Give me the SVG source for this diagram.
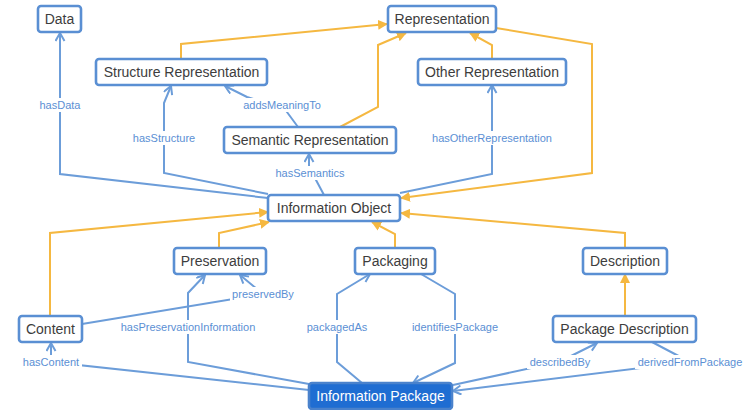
<svg xmlns="http://www.w3.org/2000/svg" width="749" height="410" viewBox="0 0 749 410">
<style>
.n rect{fill:#fff;stroke:#5a8fd3;stroke-width:2.6}
.n text{font-family:"Liberation Sans",Arial,sans-serif;font-size:14px;fill:#3d3d3d;text-anchor:middle;dominant-baseline:central}
#n-ip rect{fill:#1f6dd2;stroke:#4a82cc}
#n-ip text{fill:#fff}
.b{fill:none;stroke:#6c9dd9;stroke-width:2;marker-end:url(#ob)}
.bn{fill:none;stroke:#6c9dd9;stroke-width:2}
.o{fill:none;stroke:#f5b841;stroke-width:2;marker-end:url(#sc)}
.lb rect{fill:#fff}
.lb text{font-family:"Liberation Sans",Arial,sans-serif;font-size:11px;fill:#5b8fd4;text-anchor:middle;dominant-baseline:central}
</style>
<defs>
<marker id="ob" markerWidth="12" markerHeight="12" refX="9" refY="5" orient="auto" markerUnits="userSpaceOnUse"><path d="M1,0.5 L9,5 L1,9.5" fill="none" stroke="#6c9dd9" stroke-width="2"/></marker>
<marker id="sc" markerWidth="12" markerHeight="12" refX="9" refY="5" orient="auto" markerUnits="userSpaceOnUse"><path d="M0,0 L10,5 L0,10 z" fill="#f5b841"/></marker>
</defs>
<rect width="749" height="410" fill="#fff"/>
<g id="connectors">
<path class="o" d="M181,59 L181,44 L387,24"/>
<path class="o" d="M340,127 L378,107 L378,45 L406,33"/>
<path class="o" d="M492,59 L492,45 L470,33"/>
<path class="o" d="M496,28 L592,44 L592,173 L401,198"/>
<path class="o" d="M50,316 L50,233 L268,212"/>
<path class="o" d="M219,248 L219,233 L269,222"/>
<path class="o" d="M395,248 L395,234 L372,222"/>
<path class="o" d="M625,248 L625,233 L401,213"/>
<path class="o" d="M625,316 L625,274"/>
<path class="b" d="M268,198 L60,174 L60,33"/>
<path class="b" d="M268,194 L164,173 L164,103 L171,86"/>
<path class="b" d="M298,127 L284,108 L247,97 L225,86"/>
<path class="b" d="M324,195 L316,180 L309,166 L309,154"/>
<path class="b" d="M400,193 L492,174 L492,85"/>
<path class="b" d="M309,390 L51,362 L51,343"/>
<path class="b" d="M309,384 L188,362 L188,293 L205,275"/>
<path class="b" d="M82,324 L263,294 L240,275"/>
<path class="b" d="M362,383 L337,362 L337,294 L370,274"/>
<path class="b" d="M421,274 L455,294 L455,363 L413,383"/>
<path class="b" d="M453,385 L559,362 L597,343"/>
<path class="b" d="M652,342 L690,362 L453,391"/>
<g class="lb">
<rect x="38" y="98" width="44" height="14"/><text x="60" y="105">hasData</text>
<rect x="130" y="131" width="68" height="14"/><text x="164" y="138">hasStructure</text>
<rect x="240" y="98" width="84" height="14"/><text x="282" y="105">addsMeaningTo</text>
<rect x="273" y="166" width="74" height="14"/><text x="310" y="173">hasSemantics</text>
<rect x="429" y="131" width="126" height="14"/><text x="492" y="138">hasOtherRepresentation</text>
<rect x="230" y="287" width="66" height="14"/><text x="263" y="294">preservedBy</text>
<rect x="117" y="320" width="142" height="14"/><text x="188" y="327">hasPreservationInformation</text>
<rect x="304" y="320" width="66" height="14"/><text x="337" y="327">packagedAs</text>
<rect x="409" y="320" width="92" height="14"/><text x="455" y="327">identifiesPackage</text>
<rect x="20" y="355" width="62" height="14"/><text x="51" y="362">hasContent</text>
<rect x="527" y="355" width="66" height="14"/><text x="560" y="362">describedBy</text>
<rect x="635" y="355" width="110" height="14"/><text x="690" y="362">derivedFromPackage</text>
</g>
</g>
<g id="n-data" class="n"><rect x="38" y="6" width="43" height="26" rx="3"/><text x="59.5" y="19">Data</text></g>
<g id="n-rep" class="n"><rect x="388" y="6" width="108" height="26" rx="3"/><text x="442" y="19">Representation</text></g>
<g id="n-struct" class="n"><rect x="96" y="59" width="171" height="26" rx="3"/><text x="181.5" y="72">Structure Representation</text></g>
<g id="n-other" class="n"><rect x="418" y="59" width="148" height="26" rx="3"/><text x="492" y="72">Other Representation</text></g>
<g id="n-sem" class="n"><rect x="224" y="127" width="172" height="26" rx="3"/><text x="310" y="140">Semantic Representation</text></g>
<g id="n-io" class="n"><rect x="268" y="195" width="132" height="26" rx="3"/><text x="334" y="208">Information Object</text></g>
<g id="n-pres" class="n"><rect x="174" y="248" width="92" height="26" rx="3"/><text x="220" y="261">Preservation</text></g>
<g id="n-pack" class="n"><rect x="355" y="248" width="80" height="26" rx="3"/><text x="395" y="261">Packaging</text></g>
<g id="n-desc" class="n"><rect x="583" y="248" width="84" height="26" rx="3"/><text x="625" y="261">Description</text></g>
<g id="n-content" class="n"><rect x="19" y="316" width="63" height="26" rx="3"/><text x="50.5" y="329">Content</text></g>
<g id="n-pd" class="n"><rect x="553" y="316" width="143" height="26" rx="3"/><text x="624.5" y="329">Package Description</text></g>
<g id="n-ip" class="n"><rect x="309" y="383" width="143" height="26" rx="3"/><text x="380.5" y="396">Information Package</text></g>
</svg>
